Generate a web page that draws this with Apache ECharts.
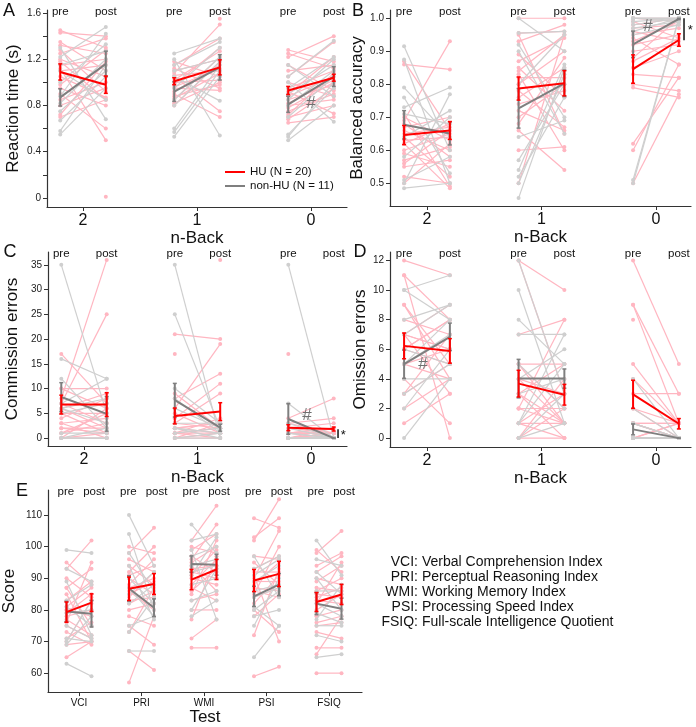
<!DOCTYPE html>
<html>
<head>
<meta charset="utf-8">
<script src="https://cdn.jsdelivr.net/npm/echarts@6/dist/echarts.min.js"></script>
<style>
html, body { margin: 0; padding: 0; background: #fff; }
#main { width: 696px; height: 727px; }
</style>
</head>
<body>
<div id="main"></div>
<script>
// categories
var nBack = ['2', '1', '0'];
var tests = ['VCI', 'PRI', 'WMI', 'PSI', 'FSIQ'];
var testNames = ['Verbal Comprehension Index', 'Perceptual Reasoning Index', 'Working Memory Index',
                 'Processing Speed Index', 'Full-scale Intelligence Quotient'];

// tick labels
var rtTicks = [0, 0.4, 0.8, 1.2, 1.6];
var rtMinor = [0, 0.2, 0.4, 0.6, 0.8, 1.0, 1.2, 1.4, 1.6];
var accTicks = [0.5, 0.6, 0.7, 0.8, 0.9, 1.0];
var comTicks = [0, 5, 10, 15, 20, 25, 30, 35];
var omTicks = [0, 2, 4, 6, 8, 10, 12];
var scoreTicks = [60, 70, 80, 90, 100, 110];

// A: reaction time (s). one inner list per n-back level (2, 1, 0); same index = same subject
var rtHuPre = [
    [1.45, 1.43, 1.35, 1.32, 1.28, 1.25, 1.20, 1.18, 1.15, 1.12, 1.10, 1.05, 0.98, 0.95, 0.90, 0.85, 0.80, 0.72, 0.70, null],
    [1.18, 1.15, 1.12, 1.10, 1.08, 1.06, 1.05, 1.02, 1.00, 0.98, 0.96, 0.95, 0.92, 0.90, 0.88, 0.86, 0.85, 0.82, 0.80, null],
    [1.28, 1.25, 1.22, 1.15, 1.10, 1.05, 1.00, 0.95, 0.92, 0.90, 0.88, 0.85, 0.82, 0.80, 0.78, 0.75, 0.72, 0.70, 0.68, 0.65]
];
var rtHuPost = [
    [1.30, 1.40, 1.10, 1.25, 0.92, 1.38, 1.05, 0.85, 1.20, 0.50, 1.15, 0.87, 1.28, 0.80, 0.60, 1.00, 0.95, 1.18, 0.85, 0.01],
    [1.05, 1.38, 0.95, 1.20, 1.50, 1.10, 0.75, 1.27, 1.02, 1.30, 1.12, 0.93, 1.15, 0.70, 0.98, 1.08, 1.22, 1.00, 1.18, 1.55],
    [1.18, 1.12, 1.40, 0.93, 1.15, 1.35, 0.88, 1.10, 0.73, 1.22, 1.05, 0.98, 1.02, 0.85, 1.00, 0.90, 1.08, 0.80, 0.95, 0.70]
];
var rtNonPre = [
    [1.30, 1.22, 1.15, 1.10, 1.00, 0.88, 0.82, 0.75, 0.67, 0.58, 0.55],
    [1.25, 1.20, 1.15, 1.10, 1.05, 0.95, 0.85, 0.80, 0.60, 0.57, 0.53],
    [1.15, 1.05, 1.00, 0.95, 0.90, 0.85, 0.80, 0.70, 0.55, 0.53, 0.50]
];
var rtNonPost = [
    [0.68, 1.48, 1.27, 0.85, 1.33, 1.42, 1.20, 1.10, 1.05, 1.15, 0.95],
    [1.38, 0.54, 1.35, 1.20, 0.84, 1.30, 1.22, 1.18, 1.15, 1.10, 1.05],
    [0.88, 1.36, 0.66, 1.22, 1.15, 1.20, 1.10, 1.05, 0.95, 1.00, 0.80]
];
// group means and SEM: [pre per level, post per level]
var rtHuMean = [[1.09, 1.01, 0.93], [0.98, 1.13, 1.04]];
var rtHuSem = [[0.07, 0.03, 0.035], [0.075, 0.065, 0.03]];
var rtNonMean = [[0.87, 0.92, 0.81], [1.16, 1.13, 1.05]];
var rtNonSem = [[0.075, 0.085, 0.07], [0.11, 0.11, 0.085]];

// B: balanced accuracy
var accHuPre = [
    [0.87, 0.86, 0.71, 0.70, 0.69, 0.68, 0.67, 0.66, 0.65, 0.64, 0.63, 0.62, 0.62, 0.60, 0.59, 0.57, 0.56, 0.55, 0.52, 0.50],
    [1.00, 0.955, 0.95, 0.93, 0.89, 0.87, 0.85, 0.84, 0.83, 0.82, 0.80, 0.78, 0.76, 0.74, 0.72, 0.70, 0.68, 0.66, 0.60, 0.50],
    [1.00, 1.00, 0.99, 0.98, 0.97, 0.96, 0.95, 0.94, 0.93, 0.92, 0.90, 0.88, 0.87, 0.85, 0.83, 0.80, 0.79, 0.62, 0.60, 0.50]
];
var accHuPost = [
    [0.66, 0.845, 0.49, 0.63, 0.93, 0.58, 0.70, 0.60, 0.67, 0.52, 0.64, 0.485, 0.68, 0.65, 0.55, 0.61, 0.66, 0.57, 0.50, 0.62],
    [1.00, 0.96, 0.65, 0.98, 0.76, 0.94, 0.72, 0.95, 0.60, 0.82, 0.90, 0.67, 0.85, 0.78, 0.66, 0.80, 0.88, 0.54, 0.61, 0.95],
    [1.00, 0.99, 0.94, 1.00, 0.98, 0.93, 0.97, 0.86, 0.99, 0.95, 0.92, 1.00, 0.94, 0.90, 0.82, 0.78, 0.76, 0.82, 0.86, 0.77]
];
var accNonPre = [
    [0.915, 0.875, 0.79, 0.76, 0.73, 0.71, 0.64, 0.58, 0.51, 0.50, 0.485],
    [1.00, 0.955, 0.92, 0.90, 0.80, 0.64, 0.57, 0.54, 0.52, 0.50, 0.455],
    [1.00, 1.00, 1.00, 1.00, 0.99, 0.98, 0.97, 0.96, 0.95, 0.51, 0.50]
];
var accNonPost = [
    [0.60, 0.50, 0.64, 0.53, 0.79, 0.68, 0.72, 0.70, 0.58, 0.77, 0.50],
    [0.90, 0.96, 0.70, 0.65, 0.95, 0.69, 0.80, 0.86, 0.76, 0.83, 0.85],
    [1.00, 1.00, 1.00, 0.99, 1.00, 1.00, 0.99, 1.00, 0.98, 1.00, 1.00]
];
var accHuMean = [[0.646, 0.787, 0.846], [0.66, 0.803, 0.934]];
var accHuSem = [[0.029, 0.035, 0.043], [0.027, 0.038, 0.019]];
var accNonMean = [[0.677, 0.727, 0.921], [0.651, 0.803, 0.998]];
var accNonSem = [[0.043, 0.06, 0.04], [0.035, 0.04, 0.002]];

// C: commission errors
var comHuPre = [
    [17, 10, 10, 8, 7, 7, 6, 6, 5, 5, 4, 3, 3, 2, 2, 1, 1, 0, 0, 0],
    [21, null, 9, 8, 6, 5, 4, 3, 3, 2, 2, 2, 1, 1, 1, 1, 0, 0, 0, 17],
    [17, 4, 3, 3, 2, 2, 1, 1, 1, 1, 1, 0, 0, 0, 0, 0, 0, 0, 0, 1]
];
var comHuPost = [
    [7, 10, 6, 36, 25, 3, 9, 2, 5, 1, 8, 0, 4, 2, 1, 3, 5, 1, 0, 6],
    [20, 36, 2, 13, 19, 1, 11, 2, 9, 3, 1, 3, 0, 4, 2, 1, 0, 3, 1, null],
    [null, 8, 1, 4, 3, 1, 2, 0, 1, 2, 1, 1, 0, 1, 0, 1, 0, 2, 1, 1]
];
var comNonPre = [
    [35, 16, 12, 7, 6, 6, 5, 1, 0, 0, 0],
    [35, 25, 10, 8, 6, 3, 2, 2, 1, 0, 0],
    [35, 7, 3, 2, 1, 1, 0, 0, 0, 0, 0]
];
var comNonPost = [
    [5, 12, 2, 12, 8, 3, 7, 1, 2, 0, 0],
    [0, 2, 3, 1, 2, 3, 1, 0, 2, 1, 0],
    [0, 0, 0, 0, 0, 0, 0, 0, 0, 0, 0]
];
var comHuMean = [[6.77, 4.47, 2.1], [6.77, 5.35, 1.83]];
var comHuSem = [[1.9, 1.6, 0.6], [2.4, 1.8, 0.4]];
var comNonMean = [[8.3, 7.65, 3.86], [4.9, 2.1, 0]];
var comNonSem = [[2.9, 3.4, 3.1], [3.5, 0.7, 0]];

// D: omission errors
var omHuPre = [
    [12, 11, 11, 9, 9, 8, 7, 7, 7, 6, 6, 5, 5, 4, 3, 3, 2, 1, 7, 6],
    [12, 12, 7, 5, 5, 4, 4, 3, 3, 3, 2, 2, 2, 1, 1, 1, 0, 0, 0, 5],
    [12, 9, 8, 5, 4, 3, 2, 2, 1, 1, 1, 1, 0, 0, 0, 0, 0, 0, 9, 1]
];
var omHuPost = [
    [11, 0, 8, 5, 4, 7, 9, 6, 3, 5, 8, 6, 4, 1, 5, 7, 4, 3, 6, 8],
    [10, 3, 8, 1, 2, 3, 1, 5, 1, 0, 2, 8, 1, 3, 0, 1, 4, 2, 0, 5],
    [5, 3, null, 1, 1, 3, 0, 1, 1, 0, 1, 0, 0, 1, 0, 0, 1, 0, 1, 0]
];
var omNonPre = [
    [10, 10, 8, 7, 6, 5, 5, 4, 3, 2, 0],
    [12, 10, 8, 7, 5, 4, 3, 1, 1, 0, 0],
    [4, 2, 1, 1, 0, 0, 0, 0, 0, 0, 0]
];
var omNonPost = [
    [11, 8, 9, 9, 5, 8, 7, 4, 5, 6, 4],
    [3, 1, 5, 7, 2, 6, 4, 7, 5, 1, 3],
    [0, 0, 0, 0, 0, 0, 0, 0, 0, 0, 0]
];
var omHuMean = [[6.23, 3.68, 2.96], [5.89, 2.93, 0.97]];
var omHuSem = [[0.87, 0.9, 0.95], [0.83, 0.7, 0.35]];
var omNonMean = [[4.99, 4.02, 0.59], [6.84, 4.02, 0]];
var omNonSem = [[0.96, 1.3, 0.37], [0.93, 0.65, 0]];

// E: WISC scores per test (VCI, PRI, WMI, PSI, FSIQ)
var scHuPre = [
    [95, 93, 90, 87, 87, 85, 83, 81, 80, 80, 79, 78, 77, 76, 75, 73, 71, 70, 69, 65],
    [100, 98, 96, 94, 92, 91, 90, 88, 87, 86, 85, 84, 83, 82, 80, 78, 75, 73, 67, 57],
    [102, 100, 99, 97, 96, 95, 94, 93, 92, 91, 90, 88, 87, 86, 85, 83, 80, 77, 71, 68],
    [109, 103, 102, 97, 95, 93, 92, 91, 90, 89, 88, 87, 86, 85, 84, 82, 80, 78, 72, 59],
    [99, 98, 94, 92, 90, 89, 87, 86, 85, 84, 83, 82, 80, 78, 76, 75, 73, 68, 66, 60]
];
var scHuPost = [
    [88, 102, 84, 75, 93, 70, 89, 87, 78, 82, 85, 80, 72, 95, 71, 69, 76, 83, 70, 70],
    [98, 106, 92, 88, 100, 94, 85, 96, 90, 80, 89, 92, 84, 86, 82, 75, 69, 87, 61, 78],
    [113, 98, 104, 92, 107, 100, 86, 94, 90, 99, 88, 96, 83, 93, 102, 85, 80, 97, 77, 68],
    [106, 109, 115, 96, 88, 97, 92, 70, 105, 89, 95, 86, 84, 100, 87, 91, 73, 85, 93, 62],
    [92, 105, 98, 97, 88, 94, 86, 90, 84, 87, 82, 95, 85, 80, 78, 76, 71, 68, 78, 60]
];
var scNonPre = [
    [99, 93, 89, 83, 81, 79, 75, 71, 70, 69, 63],
    [110, 104, 98, 94, 90, 87, 85, 82, 75, 73, 67],
    [107, 102, 99, 97, 94, 92, 91, 88, 83, 80, 78],
    [97, 93, 91, 89, 86, 84, 81, 80, 78, 75, 65],
    [102, 96, 92, 90, 86, 82, 79, 77, 75, 72, 65]
];
var scNonPost = [
    [98, 89, 72, 88, 75, 80, 71, 70, 83, 78, 59],
    [94, 80, 86, 77, 82, 78, 92, 88, 78, 84, 67],
    [98, 104, 77, 100, 96, 94, 103, 90, 86, 93, 83],
    [84, 97, 96, 94, 88, 87, 75, 86, 80, 90, 75],
    [91, 94, 85, 80, 86, 78, 76, 88, 75, 70, 66]
];
var scHuMean = [[79.3, 86.7, 89.6, 89.3, 82.5], [82.3, 88.2, 92.8, 91.4, 84.9]];
var scHuSem = [[3.2, 3.7, 3.2, 3.5, 3.0], [2.8, 3.3, 3.2, 4.0, 3.2]];
var scNonMean = [[79.5, 86.8, 94.5, 84.3, 82.0], [78.8, 80.7, 94.3, 88.0, 80.4]];
var scNonSem = [[3.2, 4.0, 2.6, 3.2, 3.5], [4.2, 2.8, 3.3, 3.5, 3.3]];

var PINK = '#ffb6c1', LGRAY = '#cfcfcf', RED = '#ff0000', DGRAY = '#7f7f7f';
var HU = 'HU (N = 20)', NON = 'non-HU (N = 11)';
var FONT = '"Liberation Sans", Arial, sans-serif';
var OFF = 0.2;

function pairs(pre, post) {
    var out = [];
    pre.forEach(function (grp, g) {
        grp.forEach(function (v, i) {
            var w = post[g][i];
            out.push([g, v == null ? '-' : v, w == null ? '-' : w]);
        });
    });
    return out;
}

function meanRows(m, s) {
    return m[0].map(function (v, g) {
        return [g, v, s[0][g], m[1][g], s[1][g]];
    });
}

function drawSubjects(color) {
    return function (params, api) {
        var g = api.value(0), a = api.value(1), b = api.value(2);
        var p = api.coord([g - OFF, isNaN(a) ? 0 : a]);
        var q = api.coord([g + OFF, isNaN(b) ? 0 : b]);
        var kids = [];
        if (!isNaN(a) && !isNaN(b)) {
            kids.push({type: 'line', shape: {x1: p[0], y1: p[1], x2: q[0], y2: q[1]},
                       style: {stroke: color, lineWidth: 1.2}});
        }
        if (!isNaN(a)) kids.push({type: 'circle', shape: {cx: p[0], cy: p[1], r: 2}, style: {fill: color}});
        if (!isNaN(b)) kids.push({type: 'circle', shape: {cx: q[0], cy: q[1], r: 2}, style: {fill: color}});
        return {type: 'group', children: kids};
    };
}

function drawMeans(color) {
    return function (params, api) {
        var g = api.value(0);
        var a = api.coord([g - OFF, api.value(1)]);
        var b = api.coord([g + OFF, api.value(3)]);
        var kids = [{type: 'line', shape: {x1: a[0], y1: a[1], x2: b[0], y2: b[1]},
                     style: {stroke: color, lineWidth: 2}}];
        [[g - OFF, 1, 2], [g + OFF, 3, 4]].forEach(function (e) {
            var m = api.value(e[1]), s = api.value(e[2]);
            var t = api.coord([e[0], m + s]), u = api.coord([e[0], m - s]);
            kids.push({type: 'line', shape: {x1: t[0], y1: t[1], x2: u[0], y2: u[1]}, style: {stroke: color, lineWidth: 2}});
            kids.push({type: 'line', shape: {x1: t[0] - 2, y1: t[1], x2: t[0] + 2, y2: t[1]}, style: {stroke: color, lineWidth: 1.5}});
            kids.push({type: 'line', shape: {x1: u[0] - 2, y1: u[1], x2: u[0] + 2, y2: u[1]}, style: {stroke: color, lineWidth: 1.5}});
        });
        return {type: 'group', children: kids};
    };
}

function textSeries(grid, items) {
    return {
        type: 'custom', xAxisIndex: grid, yAxisIndex: grid, silent: true, z: 6,
        data: items.map(function (t) { return [t.x, t.y]; }),
        renderItem: function (params, api) {
            var t = items[params.dataIndex];
            var p = api.coord([api.value(0), api.value(1)]);
            return {type: 'text', x: p[0], y: p[1] + (t.dy || 0),
                    style: {text: t.text, fill: t.color || '#111', font: (t.size || 11.5) + 'px ' + FONT,
                            align: 'center', verticalAlign: 'middle'}};
        }
    };
}

function barSeries(grid, rows) {
    return {
        type: 'custom', xAxisIndex: grid, yAxisIndex: grid, silent: true, z: 6, data: rows,
        renderItem: function (params, api) {
            var a = api.coord([api.value(0), api.value(1)]), b = api.coord([api.value(0), api.value(2)]);
            return {type: 'line', shape: {x1: a[0], y1: a[1], x2: b[0], y2: b[1]}, style: {stroke: '#111', lineWidth: 1.5}};
        }
    };
}

function panelSeries(grid, huPre, huPost, nonPre, nonPost, huM, huS, nonM, nonS) {
    return [
        {type: 'custom', name: HU, xAxisIndex: grid, yAxisIndex: grid, z: 1, silent: true,
         itemStyle: {color: RED}, data: pairs(huPre, huPost), renderItem: drawSubjects(PINK)},
        {type: 'custom', name: NON, xAxisIndex: grid, yAxisIndex: grid, z: 2, silent: true,
         itemStyle: {color: DGRAY}, data: pairs(nonPre, nonPost), renderItem: drawSubjects(LGRAY)},
        {type: 'custom', name: NON, xAxisIndex: grid, yAxisIndex: grid, z: 3, silent: true,
         itemStyle: {color: DGRAY}, data: meanRows(nonM, nonS), renderItem: drawMeans(DGRAY)},
        {type: 'custom', name: HU, xAxisIndex: grid, yAxisIndex: grid, z: 4, silent: true,
         itemStyle: {color: RED}, data: meanRows(huM, huS), renderItem: drawMeans(RED)}
    ];
}

function prePost(n, top, preX, postX) {
    var out = [];
    for (var g = 0; g < n; g++) {
        out.push({x: g + preX, y: top, text: 'pre', dy: 2});
        out.push({x: g + postX, y: top, text: 'post', dy: 2});
    }
    return out;
}

function xAx(grid, min, max, labels, size, gap) {
    var vals = labels.map(function (l, i) { return i; });
    return {
        type: 'value', gridIndex: grid, min: min, max: max,
        name: labels.length === 5 ? 'Test' : 'n-Back', nameLocation: 'middle', nameGap: gap,
        nameTextStyle: {fontSize: 17, fontFamily: FONT, color: '#111'},
        axisLine: {show: true, onZero: false, lineStyle: {color: '#333', width: 1.2}},
        axisTick: {show: true, length: 4, customValues: vals, lineStyle: {color: '#333'}},
        axisLabel: {customValues: vals, fontSize: size, fontFamily: FONT, color: '#111', margin: 6,
                    formatter: function (v) { return labels[Math.round(v)]; }},
        splitLine: {show: false}
    };
}

function yAx(grid, min, max, ticks, minor, name, gap, fmt) {
    return {
        type: 'value', gridIndex: grid, min: min, max: max,
        name: name, nameLocation: 'middle', nameGap: gap,
        nameTextStyle: {fontSize: 17, fontFamily: FONT, color: '#111'},
        axisLine: {show: true, onZero: false, lineStyle: {color: '#333', width: 1.2}},
        axisTick: {show: true, length: 4, customValues: minor || ticks, lineStyle: {color: '#333'}},
        axisLabel: {customValues: ticks, fontSize: 10, fontFamily: FONT, color: '#222', margin: 6,
                    formatter: fmt || function (v) { return String(v); }},
        splitLine: {show: false}
    };
}

var series = [].concat(
    panelSeries(0, rtHuPre, rtHuPost, rtNonPre, rtNonPost, rtHuMean, rtHuSem, rtNonMean, rtNonSem),
    panelSeries(1, accHuPre, accHuPost, accNonPre, accNonPost, accHuMean, accHuSem, accNonMean, accNonSem),
    panelSeries(2, comHuPre, comHuPost, comNonPre, comNonPost, comHuMean, comHuSem, comNonMean, comNonSem),
    panelSeries(3, omHuPre, omHuPost, omNonPre, omNonPost, omHuMean, omHuSem, omNonMean, omNonSem),
    panelSeries(4, scHuPre, scHuPost, scNonPre, scNonPost, scHuMean, scHuSem, scNonMean, scNonSem),
    [
        textSeries(0, prePost(3, 1.626, -OFF, OFF).concat([{x: 2.0, y: 0.82, text: '#', size: 17, color: '#6f6f6f'}])),
        textSeries(1, prePost(3, 1.025, -OFF, OFF).concat([
            {x: 1.93, y: 0.976, text: '#', size: 17, color: '#6f6f6f'},
            {x: 2.30, y: 0.962, text: '*', size: 13}])),
        textSeries(2, prePost(3, 37.6, -OFF, OFF).concat([
            {x: 1.965, y: 4.5, text: '#', size: 17, color: '#6f6f6f'},
            {x: 2.285, y: 0.5, text: '*', size: 13}])),
        textSeries(3, prePost(3, 12.57, -OFF, OFF).concat([{x: -0.035, y: 5.0, text: '#', size: 17, color: '#6f6f6f'}])),
        textSeries(4, prePost(5, 117.95, -0.21, 0.24)),
        barSeries(1, [[2.245, 0.933, 1.0]]),
        barSeries(2, [[2.238, 0, 1.8]])
    ]
);

var legendText = tests.map(function (t, i) {
    var y = 562 + i * 15;
    return [
        {type: 'text', x: 418, y: y, style: {text: t + ':', font: '14px ' + FONT, fill: '#111', align: 'right', verticalAlign: 'middle'}},
        {type: 'text', x: 422, y: y, style: {text: testNames[i], font: '14px ' + FONT, fill: '#111', align: 'left', verticalAlign: 'middle'}}
    ];
}).reduce(function (a, b) { return a.concat(b); }, []);

var letters = [['A', 9, 11], ['B', 358, 11], ['C', 10, 252], ['D', 360, 252], ['E', 22, 491]].map(function (l) {
    return {type: 'text', x: l[1], y: l[2], style: {text: l[0], font: '18px ' + FONT, fill: '#111', align: 'center', verticalAlign: 'middle'}};
});

var myChart = echarts.init(document.getElementById('main'));
var option = {
    animation: false,
    backgroundColor: '#fff',
    grid: [
        {left: 47, top: 10, width: 300, height: 197},
        {left: 390, top: 10, width: 301, height: 196},
        {left: 48, top: 252, width: 299, height: 194},
        {left: 390, top: 252, width: 301, height: 195},
        {left: 48, top: 490, width: 314, height: 203}
    ],
    xAxis: [
        xAx(0, -0.316, 2.316, nBack, 16, 15),
        xAx(1, -0.323, 2.306, nBack, 16, 15),
        xAx(2, -0.317, 2.317, nBack, 16, 17),
        xAx(3, -0.323, 2.306, nBack, 16, 17),
        xAx(4, -0.496, 4.528, tests, 10, 14)
    ],
    yAxis: [
        yAx(0, -0.078, 1.626, rtTicks, rtMinor, 'Reaction time (s)', 25,
            function (v) { return v === 0 ? '0' : v.toFixed(1); }),
        yAx(1, 0.431, 1.025, accTicks, null, 'Balanced accuracy', 22,
            function (v) { return v.toFixed(1); }),
        yAx(2, -1.6, 37.6, comTicks, null, 'Commission errors', 27),
        yAx(3, -0.6, 12.57, omTicks, null, 'Omission errors', 20),
        yAx(4, 54, 117.95, scoreTicks, null, 'Score', 30)
    ],
    legend: {
        data: [{name: HU, icon: 'rect', itemStyle: {color: RED}},
               {name: NON, icon: 'rect', itemStyle: {color: DGRAY}}],
        orient: 'vertical', left: 225, top: 166, itemGap: 2, itemWidth: 20, itemHeight: 2,
        padding: 0, selectedMode: false,
        textStyle: {fontSize: 11.5, fontFamily: FONT, color: '#111'}
    },
    graphic: letters.concat(legendText),
    series: series
};
myChart.setOption(option);
</script>
</body>
</html>
